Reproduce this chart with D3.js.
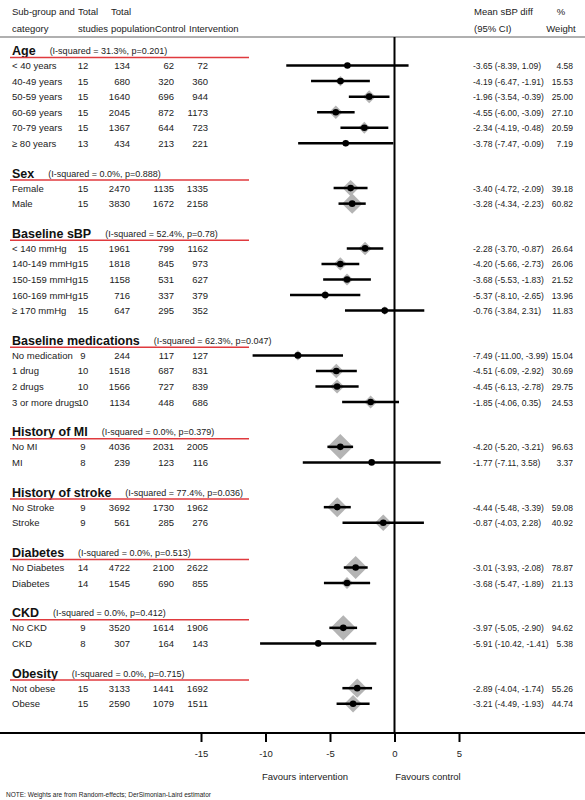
<!DOCTYPE html>
<html>
<head>
<meta charset="utf-8">
<script src="https://cdn.jsdelivr.net/npm/d3@7"></script>
<style>
  body { margin: 0; background: #fff; }
  svg { font-family: "Liberation Sans", Arial, sans-serif; }
</style>
</head>
<body>
<div id="chart"></div>
<script>
const groups = ["Age", "Sex", "Baseline sBP", "Baseline medications", "History of MI", "History of stroke", "Diabetes", "CKD", "Obesity"];
const heterogeneity = ["(I-squared = 31.3%, p=0.201)", "(I-squared = 0.0%, p=0.888)", "(I-squared = 52.4%, p=0.78)", "(I-squared = 62.3%, p=0.047)", "(I-squared = 0.0%, p=0.379)", "(I-squared = 77.4%, p=0.036)", "(I-squared = 0.0%, p=0.513)", "(I-squared = 0.0%, p=0.412)", "(I-squared = 0.0%, p=0.715)"];
const categories = [
  ["< 40 years", "40-49 years", "50-59 years", "60-69 years", "70-79 years", "≥ 80 years"],
  ["Female", "Male"],
  ["< 140 mmHg", "140-149 mmHg", "150-159 mmHg", "160-169 mmHg", "≥ 170 mmHg"],
  ["No medication", "1 drug", "2 drugs", "3 or more drugs"],
  ["No MI", "MI"],
  ["No Stroke", "Stroke"],
  ["No Diabetes", "Diabetes"],
  ["No CKD", "CKD"],
  ["Not obese", "Obese"]
];
const studies = [[12, 15, 15, 15, 15, 13], [15, 15], [15, 15, 15, 15, 15], [9, 10, 10, 10], [9, 8], [9, 9], [14, 14], [9, 8], [15, 15]];
const population = [[134, 680, 1640, 2045, 1367, 434], [2470, 3830], [1961, 1818, 1158, 716, 647], [244, 1518, 1566, 1134], [4036, 239], [3692, 561], [4722, 1545], [3520, 307], [3133, 2590]];
const control = [[62, 320, 696, 872, 644, 213], [1135, 1672], [799, 845, 531, 337, 295], [117, 687, 727, 448], [2031, 123], [1730, 285], [2100, 690], [1614, 164], [1441, 1079]];
const intervention = [[72, 360, 944, 1173, 723, 221], [1335, 2158], [1162, 973, 627, 379, 352], [127, 831, 839, 686], [2005, 116], [1962, 276], [2622, 855], [1906, 143], [1692, 1511]];
const meanDiff = [[-3.65, -4.19, -1.96, -4.55, -2.34, -3.78], [-3.40, -3.28], [-2.28, -4.20, -3.68, -5.37, -0.76], [-7.49, -4.51, -4.45, -1.85], [-4.20, -1.77], [-4.44, -0.87], [-3.01, -3.68], [-3.97, -5.91], [-2.89, -3.21]];
const ciLow = [[-8.39, -6.47, -3.54, -6.00, -4.19, -7.47], [-4.72, -4.34], [-3.70, -5.66, -5.53, -8.10, -3.84], [-11.00, -6.09, -6.13, -4.06], [-5.20, -7.11], [-5.48, -4.03], [-3.93, -5.47], [-5.05, -10.42], [-4.04, -4.49]];
const ciHigh = [[1.09, -1.91, -0.39, -3.09, -0.48, -0.09], [-2.09, -2.23], [-0.87, -2.73, -1.83, -2.65, 2.31], [-3.99, -2.92, -2.78, 0.35], [-3.21, 3.58], [-3.39, 2.28], [-2.08, -1.89], [-2.90, -1.41], [-1.74, -1.93]];
const weights = [["4.58", "15.53", "25.00", "27.10", "20.59", "7.19"], ["39.18", "60.82"], ["26.64", "26.06", "21.52", "13.96", "11.83"], ["15.04", "30.69", "29.75", "24.53"], ["96.63", "3.37"], ["59.08", "40.92"], ["78.87", "21.13"], ["94.62", "5.38"], ["55.26", "44.74"]];
const xTicks = [-15, -10, -5, 0, 5];

const W = 585, H = 800;
const svg = d3.select("#chart").append("svg").attr("width", W).attr("height", H);

const x = d3.scaleLinear().domain([-15, 5]).range([201, 459]);
// slot index -> y; each section = header + rows, then extra gap
const slotY = d3.scaleLinear().domain([0, 1]).range([50, 65.55]);
const fmt = v => d3.format(".2f")(v).replace("−", "-");

// header
const hdr = svg.append("g").style("font-size", "9.5px").attr("fill", "#222");
[["Sub-group and", "category", 12, "start"], ["Total", "studies", 78, "start"], ["Total", "population", 111, "start"], ["", "Control", 155, "start"], ["", "Intervention", 189, "start"],
 ["Mean sBP diff", "(95% CI)", 474, "start"], ["%", "Weight", 561, "middle"]].forEach(([a, b, px, anc]) => {
  hdr.append("text").attr("x", px).attr("y", 15).attr("text-anchor", anc).text(a);
  hdr.append("text").attr("x", px).attr("y", 32).attr("text-anchor", anc).text(b);
});
svg.append("line").attr("x1", 0).attr("x2", W).attr("y1", 37).attr("y2", 37).attr("stroke", "#b0b0b0").attr("stroke-width", 2);

let slot = 0;
const rows = [];
groups.forEach((g, gi) => {
  const gy = slotY(slot);
  const head = svg.append("text").attr("x", 12).attr("y", gy + 5).style("font-size", "12.5px").style("font-weight", "bold").attr("fill", "#111").text(g);
  const hw = head.node().getComputedTextLength();
  svg.append("text").attr("x", 12 + hw + 14).attr("y", gy + 4).style("font-size", "9px").attr("fill", "#222").text(heterogeneity[gi]);
  svg.append("line").attr("x1", 10).attr("x2", 249).attr("y1", gy + 7.5).attr("y2", gy + 7.5).attr("stroke", "#e03a3e").attr("stroke-width", 1.5);
  categories[gi].forEach((c, ci) => {
    rows.push({ y: slotY(slot + 1 + ci), c, s: studies[gi][ci], p: population[gi][ci], ctl: control[gi][ci], int: intervention[gi][ci],
      m: meanDiff[gi][ci], lo: ciLow[gi][ci], hi: ciHigh[gi][ci], w: weights[gi][ci] });
  });
  slot += 1 + categories[gi].length + 0.88;
});

// zero line
svg.append("line").attr("x1", x(0)).attr("x2", x(0)).attr("y1", 37).attr("y2", 733).attr("stroke", "#000").attr("stroke-width", 2);

const rg = svg.append("g").style("font-size", "9.5px").attr("fill", "#222");
rows.forEach(r => {
  const ty = r.y + 3.5;
  rg.append("text").attr("x", 12).attr("y", ty).text(r.c);
  rg.append("text").attr("x", 83).attr("y", ty).attr("text-anchor", "middle").text(r.s);
  rg.append("text").attr("x", 130).attr("y", ty).attr("text-anchor", "end").text(r.p);
  rg.append("text").attr("x", 174).attr("y", ty).attr("text-anchor", "end").text(r.ctl);
  rg.append("text").attr("x", 208).attr("y", ty).attr("text-anchor", "end").text(r.int);
  rg.append("text").attr("x", 473).attr("y", ty).style("font-size", "8.5px").text(`${fmt(r.m)} (${fmt(r.lo)}, ${fmt(r.hi)})`);
  rg.append("text").attr("x", 573).attr("y", ty).attr("text-anchor", "end").style("font-size", "8.5px").text(r.w);

  const d = 1.3 * Math.sqrt(+r.w);
  const cx = x(r.m);
  svg.append("path").attr("d", `M${cx},${r.y - d}L${cx + d},${r.y}L${cx},${r.y + d}L${cx - d},${r.y}Z`).attr("fill", "#b4b4b4");
  svg.append("line").attr("x1", x(r.lo)).attr("x2", x(r.hi)).attr("y1", r.y).attr("y2", r.y).attr("stroke", "#000").attr("stroke-width", 2.5);
  svg.append("circle").attr("cx", cx).attr("cy", r.y).attr("r", 3.3).attr("fill", "#000");
});

// axis
const axisY = 733;
svg.append("line").attr("x1", 0).attr("x2", W).attr("y1", axisY).attr("y2", axisY).attr("stroke", "#000").attr("stroke-width", 2);
const ax = svg.append("g").attr("transform", `translate(0,${axisY})`)
  .call(d3.axisBottom(x).tickValues(xTicks).tickSize(9).tickPadding(8).tickFormat(v => String(v)));
ax.select(".domain").remove();
ax.selectAll(".tick line").attr("stroke-width", 2);
ax.selectAll("text").style("font-size", "9.5px").attr("fill", "#222").style("font-family", "Liberation Sans, Arial, sans-serif");

svg.append("text").attr("x", 305).attr("y", 780).attr("text-anchor", "middle").style("font-size", "9.5px").attr("fill", "#222").text("Favours intervention");
svg.append("text").attr("x", 428).attr("y", 780).attr("text-anchor", "middle").style("font-size", "9.5px").attr("fill", "#222").text("Favours control");
svg.append("text").attr("x", 6).attr("y", 797).style("font-size", "6.5px").attr("fill", "#222").text("NOTE: Weights are from Random-effects; DerSimonian-Laird estimator");
</script>
</body>
</html>
